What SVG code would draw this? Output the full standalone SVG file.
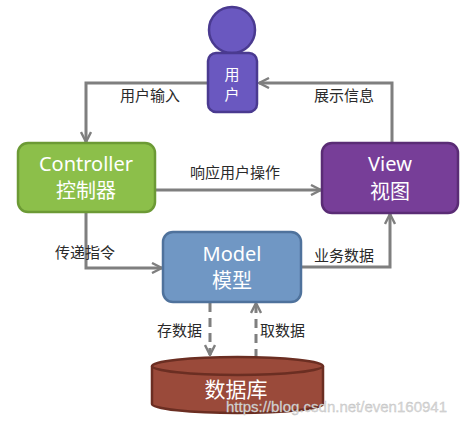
<svg xmlns="http://www.w3.org/2000/svg" width="468" height="423" viewBox="0 0 468 423">
<style>
.conn{fill:none;stroke:#7f7f7f;stroke-width:3;marker-end:url(#arr)}
.dash{stroke-dasharray:9 6}
.lbl{font-family:"Noto Sans CJK SC","Noto Sans",sans-serif;font-size:15px;fill:#2a2a2a}
.nt{font-family:"Noto Sans","Noto Sans CJK SC",sans-serif;font-size:20px;fill:#fff;text-anchor:middle}
.nc{font-family:"Noto Sans CJK SC",sans-serif;font-size:20px;fill:#fff;text-anchor:middle}
</style>
<defs>
<marker id="arr" viewBox="0 0 12 12" refX="11" refY="6" markerWidth="12" markerHeight="12" markerUnits="userSpaceOnUse" orient="auto">
<path d="M1,1 L11,6 L1,11" fill="none" stroke="#7f7f7f" stroke-width="2.4"/>
</marker>
</defs>
<rect width="468" height="423" fill="#fff"/>
<g id="connectors">
<polyline class="conn" points="208,83 86,83 86,142"/>
<polyline class="conn" points="392,143 392,83 259,83"/>
<polyline class="conn" points="155,190 321,190"/>
<polyline class="conn" points="86,212 86,268 162,268"/>
<polyline class="conn" points="301,267 390,267 390,214"/>
<line class="conn dash" x1="210" y1="303" x2="210" y2="355"/>
<line class="conn dash" x1="256" y1="358" x2="256" y2="303"/>
</g>
<g id="labels">
<text class="lbl" x="120" y="101">用户输入</text>
<text class="lbl" x="314" y="101">展示信息</text>
<text class="lbl" x="190" y="178">响应用户操作</text>
<text class="lbl" x="55" y="258">传递指令</text>
<text class="lbl" x="314" y="261">业务数据</text>
<text class="lbl" x="157" y="336">存数据</text>
<text class="lbl" x="260" y="336">取数据</text>
</g>
<g id="user">
<circle cx="232" cy="30" r="23" fill="#6a58c0" stroke="#4a3a90" stroke-width="2.5"/>
<rect x="208" y="53" width="49" height="59" rx="8" fill="#6a58c0" stroke="#4a3a90" stroke-width="2.5"/>
<text class="nc" style="font-size:15px"><tspan x="232" y="80">用</tspan><tspan x="232" y="100">户</tspan></text>
</g>
<g id="controller">
<rect x="18" y="143" width="137" height="69" rx="10" fill="#8cbf4a" stroke="#6c9a35" stroke-width="2.5"/>
<text class="nt" x="86" y="171">Controller</text>
<text class="nc" x="86" y="198">控制器</text>
</g>
<g id="view">
<rect x="322" y="143" width="136" height="70" rx="10" fill="#773e98" stroke="#5a2c75" stroke-width="2.5"/>
<text class="nt" x="390" y="171">View</text>
<text class="nc" x="390" y="199">视图</text>
</g>
<g id="model">
<rect x="163" y="232" width="138" height="70" rx="10" fill="#7097c4" stroke="#4f729c" stroke-width="2.5"/>
<text class="nt" x="232" y="261">Model</text>
<text class="nc" x="232" y="288">模型</text>
</g>
<g id="database">
<path d="M152,366 L152,404 A85.5,9 0 0 0 323,404 L323,366" fill="#9a4a3a" stroke="#6b2e22" stroke-width="2.5"/>
<ellipse cx="237.5" cy="366" rx="85.5" ry="9" fill="#9a4a3a" stroke="#6b2e22" stroke-width="2.5"/>
<text class="nc" x="236" y="397" style="font-size:21px">数据库</text>
</g>
<text x="226" y="412" style="font-family:'Liberation Sans',sans-serif;font-size:15px;fill:#d9d9d9;stroke:#bdbdbd;stroke-width:0.3">https://blog.csdn.net/even160941</text>
</svg>
